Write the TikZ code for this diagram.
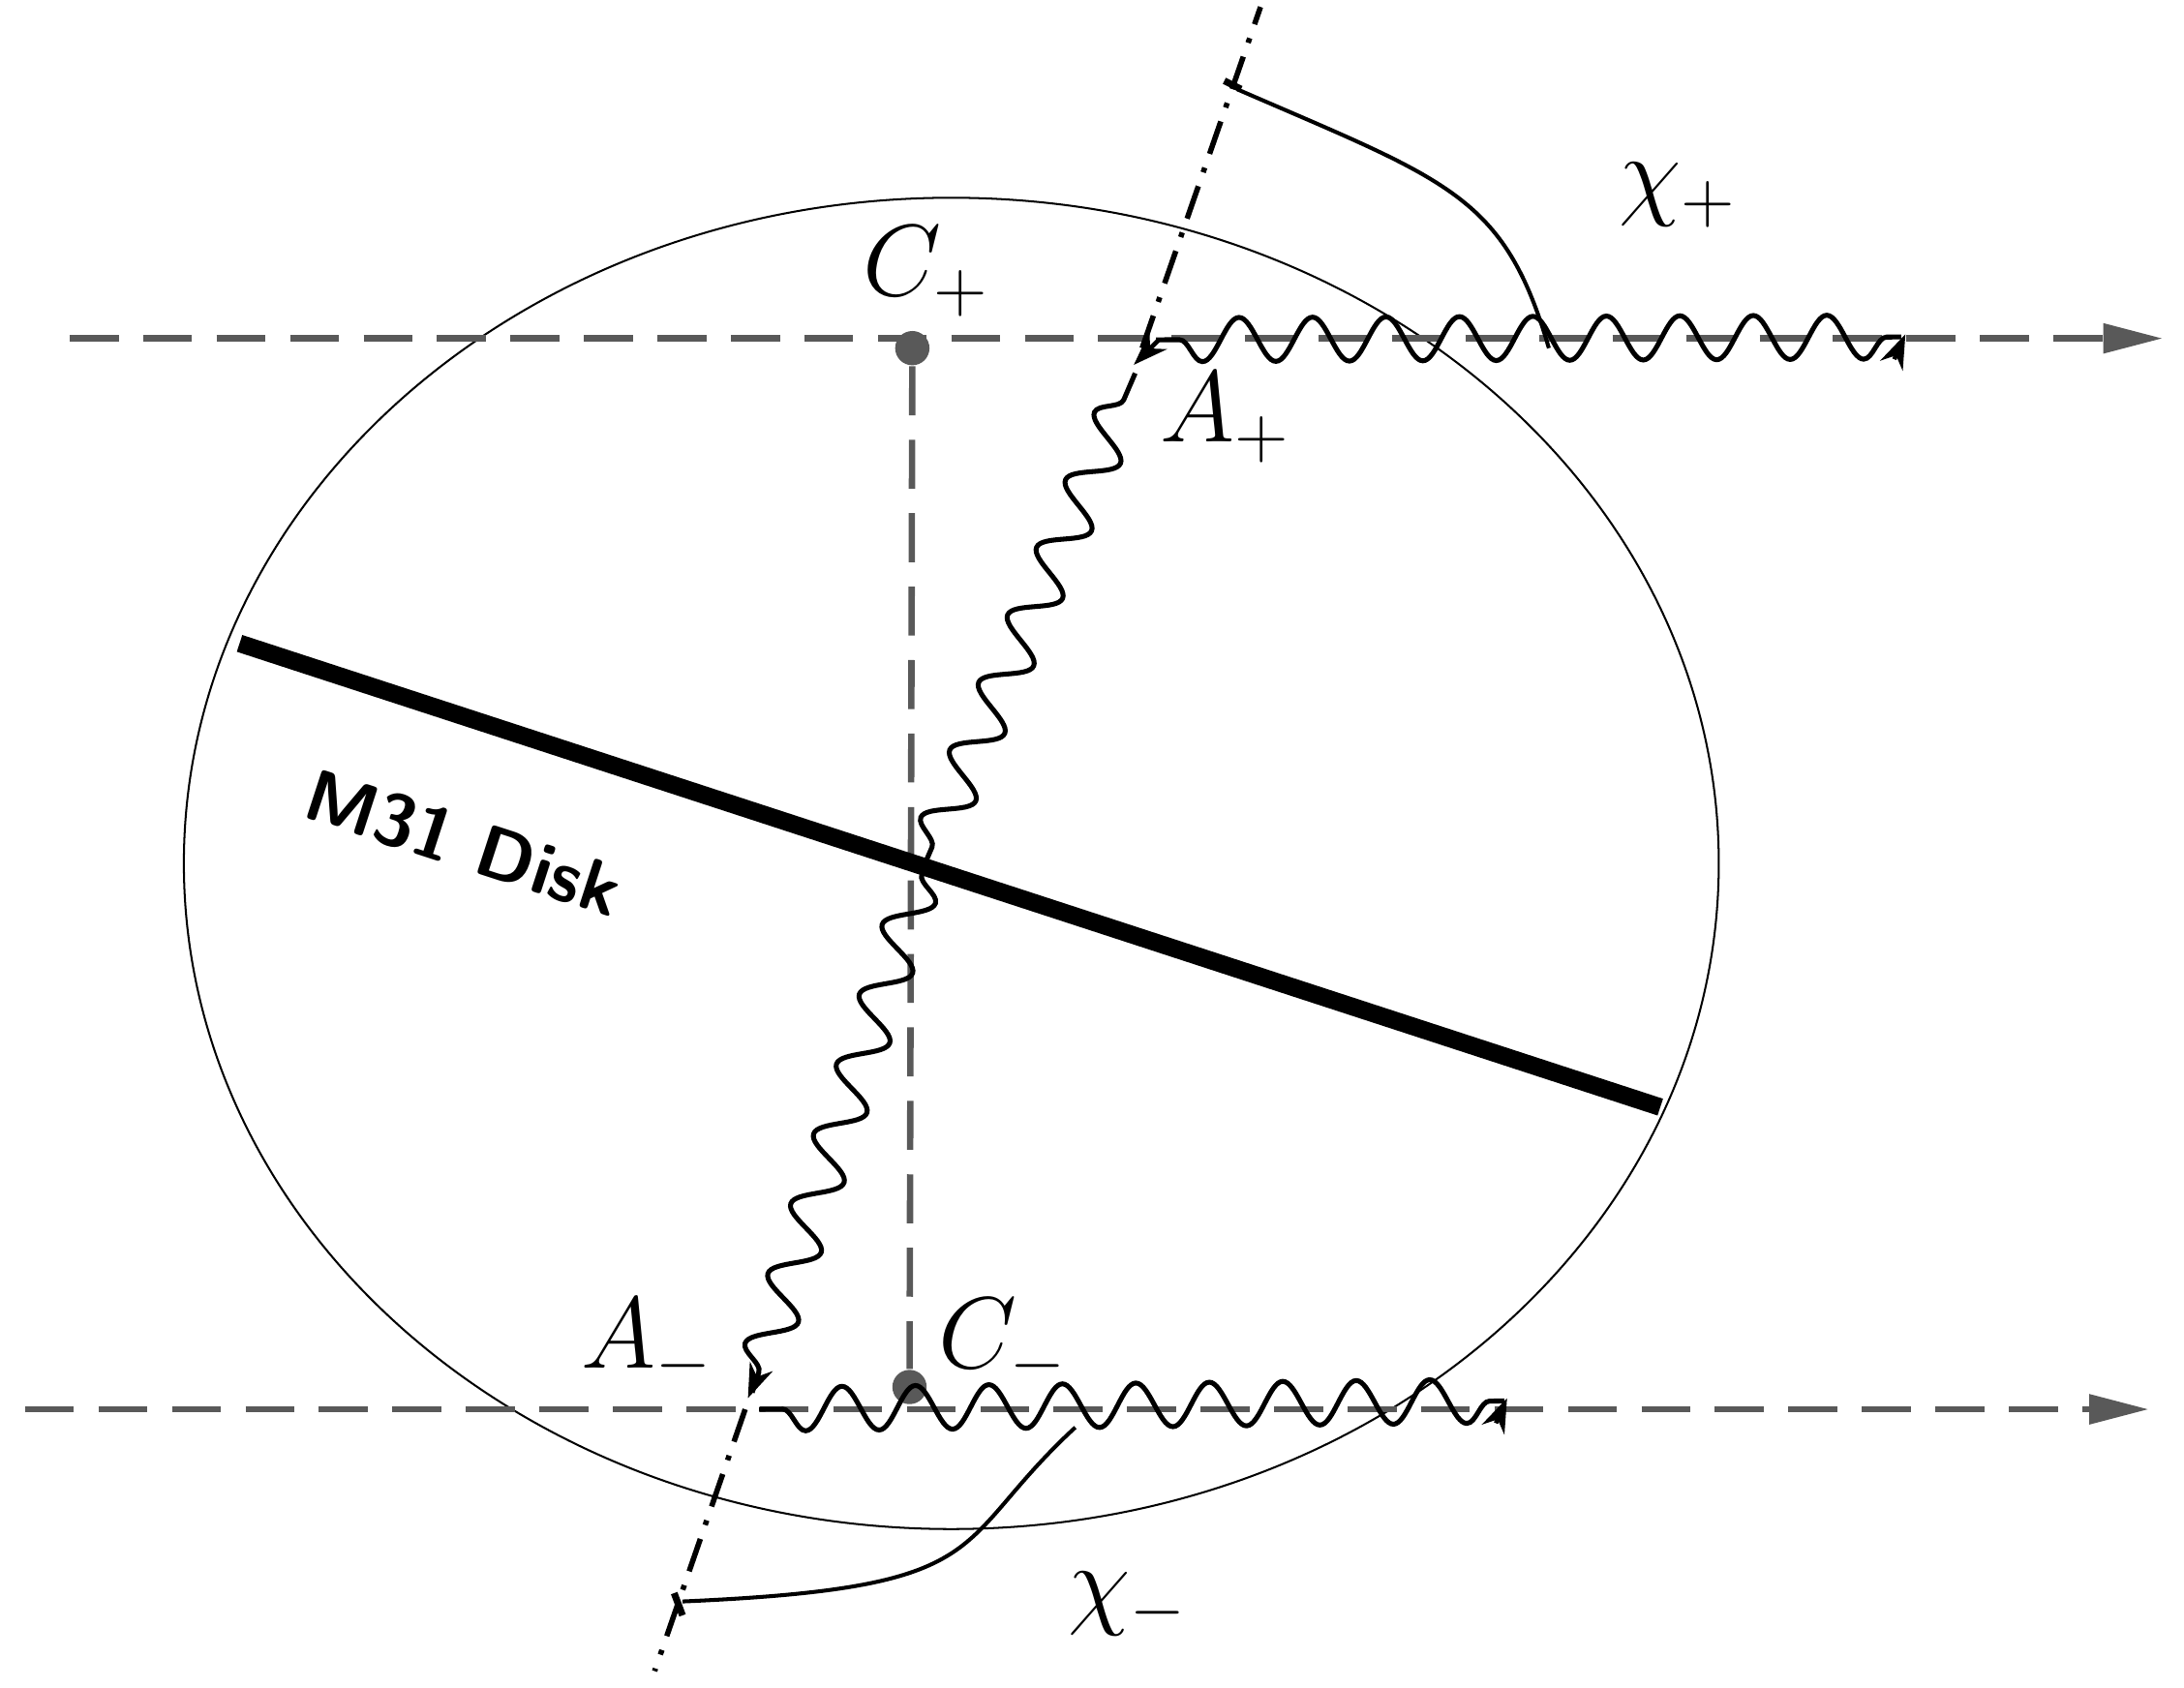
\documentclass[tikz,border=0pt]{standalone}
\usetikzlibrary{decorations.pathmorphing,arrows.meta}
\begin{document}
\begin{tikzpicture}[x=0.01cm,y=-0.01cm,
  gdash/.style={draw=black!65,line width=1.3pt,dash pattern=on 10pt off 5pt},
  wave/.style={line width=1pt,decorate,decoration={snake,segment length=15pt,amplitude=4.5pt,pre length=3pt,post length=3pt}},
  lbl/.style={font=\fontsize{22}{26}\selectfont},
  ddot/.style={line width=1.1pt,dash pattern=on 7pt off 3pt on 1pt off 3pt}]
\useasboundingbox (0,0) rectangle (1568,1212);
\draw[line width=0.4pt] (683,620) ellipse [x radius=551, y radius=478];
% dashed horizontals
\coordinate (u0) at (50,243); \coordinate (u1) at (1540,243);
\coordinate (l0) at (18,1012); \coordinate (l1) at (1530,1012);
\draw[gdash] (u0) -- (u1);
\draw[gdash] (l0) -- (l1);
\fill[black!65] (1552,243) -- (1510,232) -- (1510,254) -- cycle;
\fill[black!65] (1542,1012) -- (1500,1001) -- (1500,1023) -- cycle;
% C points
\node[circle,fill=black!65,inner sep=0pt,minimum size=7pt] (cp) at (655,250) {};
\node[circle,fill=black!65,inner sep=0pt,minimum size=7pt] (cm) at (653,996) {};
\draw[gdash] (cp) -- (cm);
% disk
\coordinate (d0) at (172,462); \coordinate (d1) at (1192,795);
\draw[line width=3.6pt] (d0) -- (d1);
\node[rotate=-18,font=\sffamily\bfseries\fontsize{15}{18}\selectfont] (disk) at (333,605) {M31 Disk};
% dash-dot lines
\coordinate (ap) at (820,250); \coordinate (apt) at (905,5);
\coordinate (am) at (535,1012); \coordinate (amb) at (470,1200);
\draw[ddot] (ap) -- (apt);
\draw[ddot] (am) -- (amb);
% braces
\draw[line width=1.4pt] (879,58) -- (891,64);
\draw[line width=0.8pt] (888,64) .. controls (1040,130) and (1080,140) .. (1112,250);
\draw[line width=1.4pt] (484,1144) -- (490,1160);
\draw[line width=0.8pt] (490,1150) .. controls (720,1140) and (680,1110) .. (772,1025);
% waves
\coordinate (wc) at (665,618);
\coordinate (wp) at (1365,242);
\coordinate (wm) at (1080,1006);
\draw[wave] (wp) -- (830,244);
\draw[wave] (wc) -- (815,268);
\draw[wave] (wc) -- (540,1000);
\draw[wave] (wm) -- (545,1012);
\draw[-{Stealth[length=7pt,width=5pt]},line width=0.9pt] (832,244) -- (814,262);
\draw[-{Stealth[length=7pt,width=5pt]},line width=0.9pt] (545,985) -- (537,1004);
\draw[-{Stealth[length=7pt,width=5pt]},line width=0.9pt] (1360,258) -- (1368,240);
\draw[-{Stealth[length=7pt,width=5pt]},line width=0.9pt] (1074,1022) -- (1082,1004);
% labels
\node[lbl] (lcp) at (665,195) {$C_+$};
\node[lbl] (lap) at (880,300) {$A_+$};
\node[lbl] (lam) at (465,965) {$A_-$};
\node[lbl] (lcm) at (720,965) {$C_-$};
\node[lbl] (lxp) at (1205,140) {$\chi_+$};
\node[lbl] (lxm) at (810,1152) {$\chi_-$};
\end{tikzpicture}
\end{document}
